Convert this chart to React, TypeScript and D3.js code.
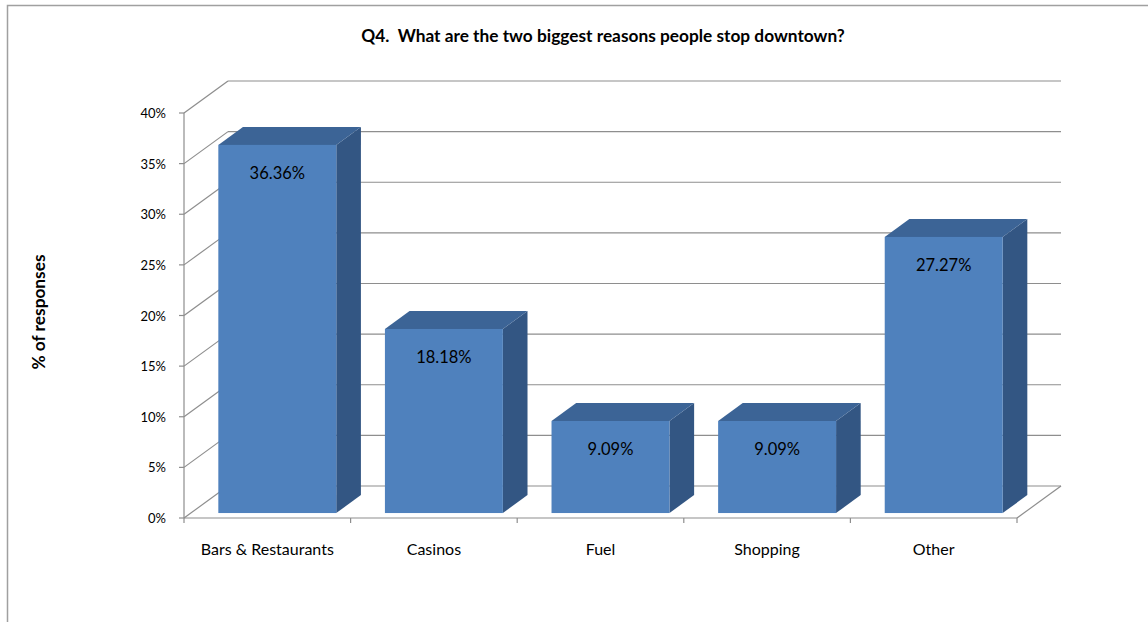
import React from "react";
import * as d3 from "d3";

const categories = ["Bars & Restaurants", "Casinos", "Fuel", "Shopping", "Other"];
const values = [36.36, 18.18, 9.09, 9.09, 27.27];
const valueLabels = ["36.36%", "18.18%", "9.09%", "9.09%", "27.27%"];
const yTicks = [0, 5, 10, 15, 20, 25, 30, 35, 40];
const title = "Q4.  What are the two biggest reasons people stop downtown?";
const yTitle = "% of responses";

const W = 1148;
const H = 622;
const FONT = "Lato, 'Open Sans', sans-serif";

export default function App() {
  const x0 = 184, x1 = 1017;
  const yBottom = 518, yTop = 113;
  const DX = 44, DY = 32;
  const x = d3.scaleBand<string>().domain(categories).range([x0, x1]).padding(0);
  const y = d3.scaleLinear().domain([0, 40]).range([yBottom, yTop]);
  const grid = "#8e8e8e";

  // bar depth parameters
  const zf = 0.155, zb = 0.715;
  const barW = x.bandwidth() * 0.708;
  const sdx = (zb - zf) * DX;
  const sdy = (zb - zf) * DY;

  return (
    <svg width={W} height={H} style={{ position: "absolute", left: 0, top: 0, display: "block" }}>
      <rect x={0} y={0} width={W} height={H} fill="#fff" />
      {/* outer border */}
      <path d={`M7.5,${H} L7.5,5.5 L${W},5.5`} fill="none" stroke="#a0a0a0" strokeWidth={1.5} />
      {/* title */}
      <text x={603} y={42} textAnchor="middle" fontFamily={FONT} fontWeight="bold" fontSize={17.3} fill="#000" style={{ whiteSpace: "pre" }}>
        {title}
      </text>
      {/* y-axis title */}
      <text transform={`translate(45,312) rotate(-90)`} textAnchor="middle" fontFamily={FONT} fontWeight="bold" fontSize={17.3} fill="#000">
        {yTitle}
      </text>
      {/* back wall gridlines and left wall diagonals */}
      {yTicks.map((t) => (
        <g key={"g" + t}>
          <line x1={x0 + DX} x2={x1 + DX} y1={y(t) - DY} y2={y(t) - DY} stroke={grid} strokeWidth={1.2} />
          <line x1={x0} x2={x0 + DX} y1={y(t)} y2={y(t) - DY} stroke={grid} strokeWidth={1.2} />
        </g>
      ))}
      {/* floor right edge */}
      <line x1={x1} x2={x1 + DX} y1={yBottom} y2={yBottom - DY} stroke={grid} strokeWidth={1.2} />
      {/* y axis */}
      <line x1={x0} x2={x0} y1={yTop} y2={yBottom} stroke={grid} strokeWidth={1.2} />
      {yTicks.map((t) => (
        <g key={"t" + t}>
          <line x1={x0 - 5} x2={x0} y1={y(t)} y2={y(t)} stroke={grid} strokeWidth={1.2} />
          <text x={166} y={y(t) + 5} textAnchor="end" fontFamily={FONT} fontSize={13} fill="#000">
            {t + "%"}
          </text>
        </g>
      ))}
      {/* x axis */}
      <line x1={x0} x2={x1} y1={yBottom} y2={yBottom} stroke={grid} strokeWidth={1.2} />
      {categories.map((c, i) => (
        <line key={"xt" + i} x1={x(c)!} x2={x(c)!} y1={yBottom} y2={yBottom + 5} stroke={grid} strokeWidth={1.2} />
      ))}
      <line x1={x1} x2={x1} y1={yBottom} y2={yBottom + 5} stroke={grid} strokeWidth={1.2} />
      {categories.map((c, i) => (
        <text key={"xl" + i} x={x(c)! + x.bandwidth() / 2} y={555} textAnchor="middle" fontFamily={FONT} fontSize={16} fill="#000">
          {c}
        </text>
      ))}
      {/* bars */}
      {categories.map((c, i) => {
        const cx = x(c)! + x.bandwidth() / 2 + 10;
        const bx0 = cx - barW / 2;
        const bx1 = cx + barW / 2;
        const yt = y(values[i]) - zf * DY;
        const yb = yBottom - zf * DY;
        return (
          <g key={"b" + i}>
            <polygon
              points={`${bx1},${yt} ${bx1 + sdx},${yt - sdy} ${bx1 + sdx},${yb - sdy} ${bx1},${yb}`}
              fill="#335683"
            />
            <polygon
              points={`${bx0},${yt} ${bx0 + sdx},${yt - sdy} ${bx1 + sdx},${yt - sdy} ${bx1},${yt}`}
              fill="#3c6496"
            />
            <rect x={bx0} y={yt} width={barW} height={yb - yt} fill="#4f81bd" />
            <text x={cx} y={yt + 34} textAnchor="middle" fontFamily={FONT} fontSize={16.5} fill="#000">
              {valueLabels[i]}
            </text>
          </g>
        );
      })}
    </svg>
  );
}
